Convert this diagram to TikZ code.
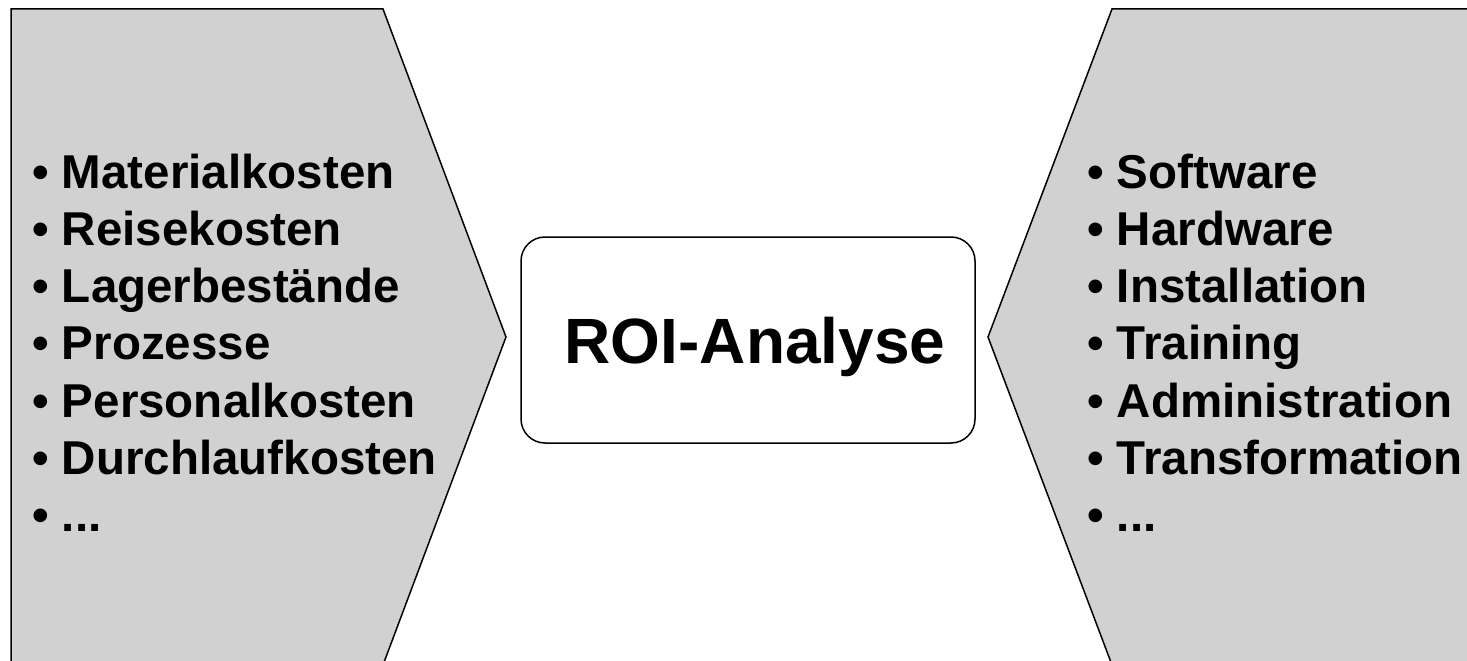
\documentclass[tikz,border=0pt]{standalone}
\usepackage{fontspec}
\setmainfont{Liberation Sans}
\usepackage{tikz}
\definecolor{panelgray}{RGB}{209,209,209}

\begin{document}
\begin{tikzpicture}[x=1pt,y=-1pt,
    item/.style={anchor=base west,inner sep=0pt,font=\fontsize{47.5}{57}\selectfont\bfseries},
    roibox/.style={draw,line width=1.5pt,fill=white,rounded corners=24pt,minimum width=454pt,minimum height=206pt}]
                \clip (0,0) rectangle (1467,661);
                
                \draw[line width=1.5pt,fill=panelgray] (11,9)
                -- (383,9)
                -- (506,337)
                -- (383,665)
                -- (11,665) -- cycle;
                
                \draw[line width=1.5pt,fill=panelgray] (1480,9)
                -- (1112,9)
                -- (988,337)
                -- (1112,665)
                -- (1480,665);
                
                \node[roibox] (roi) at (748,340) {};
                \node[anchor=base,inner sep=0pt,font=\fontsize{64}{70}\selectfont\bfseries] (roitext) at (755,363) {ROI-Analyse};
                
                \foreach \txt [count=\i] in {Materialkosten,Reisekosten,Lagerbestände,Prozesse,Personalkosten,Durchlaufkosten,{.{}.{}.}}
                    \node[item] (cost\i) at (32,188+57.3*\i-57.3) {• \txt};
                
                \foreach \txt [count=\i] in {Software,Hardware,Installation,Training,Administration,Transformation,{.{}.{}.}}
                    \node[item] (inv\i) at (1087,188+57.3*\i-57.3) {• \txt};
            \end{tikzpicture}
\end{document}
